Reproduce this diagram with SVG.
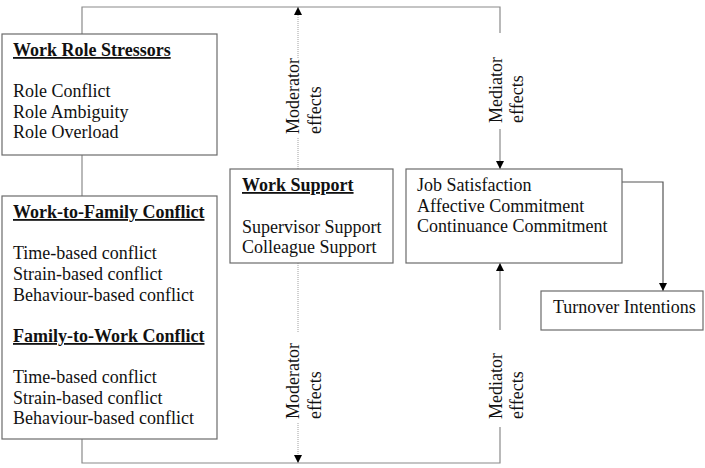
<svg xmlns="http://www.w3.org/2000/svg" width="705" height="468" viewBox="0 0 705 468">
<style>
.box{fill:#fff;stroke:#6b6b6b;stroke-width:1.2}
.t{font-family:"Liberation Serif","Times New Roman",serif;font-size:18px;fill:#111}
.h{font-weight:bold;text-decoration:underline}
.ln{fill:none;stroke:#8a8a8a;stroke-width:1.2}
.dk{fill:none;stroke:#555;stroke-width:1.2}
.dot{fill:none;stroke:#a0a0a0;stroke-width:1;stroke-dasharray:1 1}
</style>
<defs>
<marker id="ah" markerUnits="userSpaceOnUse" markerWidth="9" markerHeight="9" refX="8" refY="4" orient="auto">
<path d="M0,0 L8,4 L0,8 z" fill="#000"/>
</marker>
</defs>
<rect width="705" height="468" fill="#fff"/>
<g id="connectors">
<path class="ln" d="M82,34 V7 H500 V33"/>
<path class="ln" d="M500,129 V169" marker-end="url(#ah)"/>
<path class="ln" d="M82,155 V196"/>
<path class="ln" d="M82,439 V463 H500 V427"/>
<path class="ln" d="M500,330 V263" marker-end="url(#ah)"/>
<path class="dot" d="M298,169 V138"/>
<path class="dot" d="M298,58 V7" marker-end="url(#ah)"/>
<path class="dot" d="M298,263 V332"/>
<path class="dot" d="M298,423 V463" marker-end="url(#ah)"/>
<path class="dk" d="M622,182 H663 V291" marker-end="url(#ah)"/>
<g class="t">
<text transform="translate(299,134) rotate(-90)">Moderator</text>
<text transform="translate(321,134) rotate(-90)">effects</text>
<text transform="translate(502,123) rotate(-90)">Mediator</text>
<text transform="translate(523,123) rotate(-90)">effects</text>
<text transform="translate(299,419) rotate(-90)">Moderator</text>
<text transform="translate(321,419) rotate(-90)">effects</text>
<text transform="translate(502,419) rotate(-90)">Mediator</text>
<text transform="translate(523,419) rotate(-90)">effects</text>
</g>
</g>
<g id="work-role-stressors">
<rect class="box" x="2" y="34" width="215" height="121"/>
<text class="t h" x="13" y="56">Work Role Stressors</text>
<text class="t" x="13" y="97">Role Conflict</text>
<text class="t" x="13" y="117.5">Role Ambiguity</text>
<text class="t" x="13" y="138">Role Overload</text>
</g>
<g id="conflict">
<rect class="box" x="2" y="196" width="215" height="243"/>
<text class="t h" x="13" y="218">Work-to-Family Conflict</text>
<text class="t" x="13" y="259">Time-based conflict</text>
<text class="t" x="13" y="280">Strain-based conflict</text>
<text class="t" x="13" y="301">Behaviour-based conflict</text>
<text class="t h" x="13" y="342">Family-to-Work Conflict</text>
<text class="t" x="13" y="383">Time-based conflict</text>
<text class="t" x="13" y="404">Strain-based conflict</text>
<text class="t" x="13" y="424">Behaviour-based conflict</text>
</g>
<g id="work-support">
<rect class="box" x="230" y="169" width="163" height="94"/>
<text class="t h" x="242" y="191">Work Support</text>
<text class="t" x="242" y="233">Supervisor Support</text>
<text class="t" x="242" y="253">Colleague Support</text>
</g>
<g id="attitudes">
<rect class="box" x="406" y="169" width="216" height="94"/>
<text class="t" x="417" y="191">Job Satisfaction</text>
<text class="t" x="417" y="212">Affective Commitment</text>
<text class="t" x="417" y="232">Continuance Commitment</text>
</g>
<g id="turnover">
<rect class="box" x="541" y="291" width="162" height="39"/>
<text class="t" x="553" y="313">Turnover Intentions</text>
</g>
</svg>
